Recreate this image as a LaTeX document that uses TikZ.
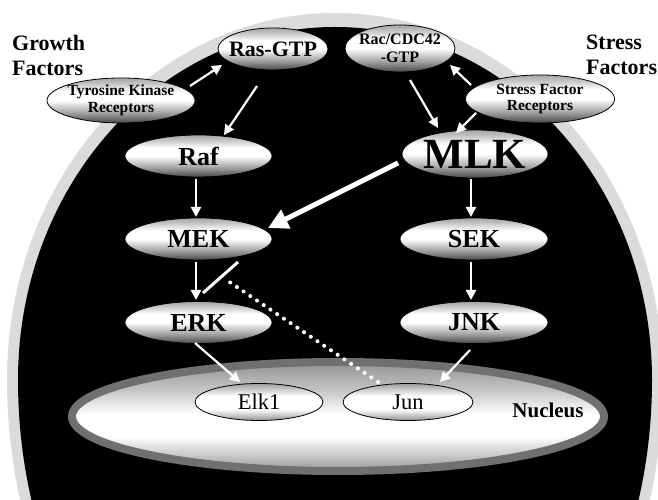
\documentclass[tikz,border=0pt]{standalone}
\usepackage{fontspec}
\setmainfont{Liberation Serif}
\usetikzlibrary{shapes.geometric,arrows.meta,calc}
\pgfdeclareverticalshading{nodeshade}{100bp}{color(0bp)=(black!72); color(25bp)=(black!72); color(36bp)=(gray!75); color(50bp)=(white); color(60bp)=(white); color(70bp)=(gray!50); color(75bp)=(gray!70); color(100bp)=(gray!70)}
\pgfdeclareverticalshading{smallshade}{100bp}{color(0bp)=(gray!85); color(25bp)=(gray!85); color(40bp)=(white); color(58bp)=(white); color(75bp)=(gray!75); color(100bp)=(gray!75)}
\pgfdeclareverticalshading{nucshade}{100bp}{color(0bp)=(gray!80); color(25bp)=(gray!80); color(33bp)=(gray!40); color(41bp)=(white); color(51bp)=(white); color(62bp)=(gray!45); color(75bp)=(gray!85); color(100bp)=(gray!85)}
\begin{document}
\begin{tikzpicture}[x=1pt,y=1pt,
  cellnode/.style={ellipse, draw=black, line width=0.8pt, shading=nodeshade, inner sep=-30pt, outer sep=0pt, align=center, font=\bfseries\fontsize{26}{28}\selectfont, minimum width=147pt, minimum height=42pt},
  recnode/.style={cellnode, font=\bfseries\fontsize{15.5}{16.5}\selectfont},
  smallnode/.style={ellipse, draw=black, line width=0.8pt, shading=smallshade, inner sep=-30pt, outer sep=0pt, font=\fontsize{22.5}{24}\selectfont, minimum width=128pt, minimum height=37pt},
  nucnode/.style={ellipse, draw=black!56, line width=8pt, shading=nucshade, inner sep=-30pt, minimum width=532pt, minimum height=109pt},
  sidetext/.style={anchor=north west, inner sep=0pt, align=left, font=\bfseries\fontsize{22}{25}\selectfont},
  arr/.style={draw=white, line width=2.2pt, -{Triangle[length=10pt,width=10pt]}},
  bigarr/.style={draw=white, line width=5pt, -{Triangle[length=20pt,width=20pt]}},
  dotinhib/.style={draw=white, line width=4pt, line cap=round, dash pattern=on 0.1pt off 8pt},
  barline/.style={draw=white, line width=3pt}
]
\useasboundingbox (0,0) rectangle (658,500);
\begin{scope}
  \clip (0,0) rectangle (658,500);
  \fill[gray!28] (7,120) arc[start angle=180, end angle=0, x radius=328, y radius=367]
     arc[start angle=0, end angle=-180, x radius=328, y radius=426] -- cycle;
  \fill[black] (18,120) arc[start angle=180, end angle=0, x radius=317, y radius=353]
     arc[start angle=0, end angle=-180, x radius=317, y radius=415] -- cycle;
\end{scope}

% nucleus
\node[nucnode] (nuc) at (338,83.5) {};
\node[font=\bfseries\fontsize{21}{23}\selectfont] (nuclbl) at (548,90) {Nucleus};

% side texts
\node[sidetext] (gf) at (12,465) {Growth\\Factors};
\node[sidetext] (sf) at (586,465) {Stress\\Factors};

% nodes
\node[cellnode, font=\bfseries\fontsize{22}{24}\selectfont, minimum width=110pt, minimum height=42pt] (ras) at (273,451) {Ras-GTP};
\node[recnode, font=\bfseries\fontsize{16}{18}\selectfont, minimum width=110pt, minimum height=47pt] (rac) at (400,451.5) {Rac/CDC42\\-GTP};
\node[recnode, minimum width=148pt, minimum height=45pt] (tkr) at (121,399.5) {Tyrosine Kinase\\Receptors};
\node[recnode, minimum width=149pt, minimum height=48pt] (sfr) at (540,401) {Stress Factor\\Receptors};
\node[cellnode] (raf) at (198.5,344) {Raf};
\node[cellnode, font=\bfseries\fontsize{43}{45}\selectfont, minimum width=146pt, minimum height=48pt] (mlk) at (475,346) {MLK};
\node[cellnode] (mek) at (198.5,261) {MEK};
\node[cellnode, minimum width=148pt] (sek) at (474,261) {SEK};
\node[cellnode] (erk) at (198.5,177.5) {ERK};
\node[cellnode, minimum width=148pt] (jnk) at (474,177.5) {JNK};
\node[smallnode] (elk) at (259,98) {Elk1};
\node[smallnode, minimum width=130pt] (jun) at (408,98) {Jun};

% connectors
\draw[arr] ($(tkr)+(69,14.5)$) -- ($(ras)+(-51,-16)$);
\draw[arr] ($(ras)+(-16,-37)$) -- ($(raf)+(25.5,21)$);
\draw[arr] ($(sfr)+(-69,14)$) -- ($(rac)+(50,-16.5)$);
\draw[arr] ($(rac)+(10,-31.5)$) -- ($(mlk)+(-37,26)$);
\draw[arr] ($(sfr)+(-64,-14)$) -- ($(mlk)+(-19,21)$);
\draw[bigarr] ($(mlk)+(-77,-9)$) -- ($(mek)+(69.5,11)$);
\draw[arr] ($(raf)+(-2.5,-23)$) -- ($(mek)+(-2.5,22)$);
\draw[arr] ($(mlk)+(-4,-25)$) -- ($(sek)+(-3,22)$);
\draw[arr] ($(mek)+(-2.5,-23)$) -- ($(erk)+(-2.5,22.5)$);
\draw[arr] ($(sek)+(-3,-23)$) -- ($(jnk)+(-3,22.5)$);
\draw[arr] ($(erk)+(-3.5,-20.5)$) -- ($(elk)+(-19,20)$);
\draw[arr] ($(jnk)+(-4,-27.5)$) -- ($(jun)+(32,20)$);
\draw[dotinhib] ($(jun)+(-30,20)$) -- ($(mek)+(28,-41)$);
\draw[barline] ($(mek)+(39.5,-23)$) -- ($(mek)+(4.5,-54)$);
\end{tikzpicture}
\end{document}
